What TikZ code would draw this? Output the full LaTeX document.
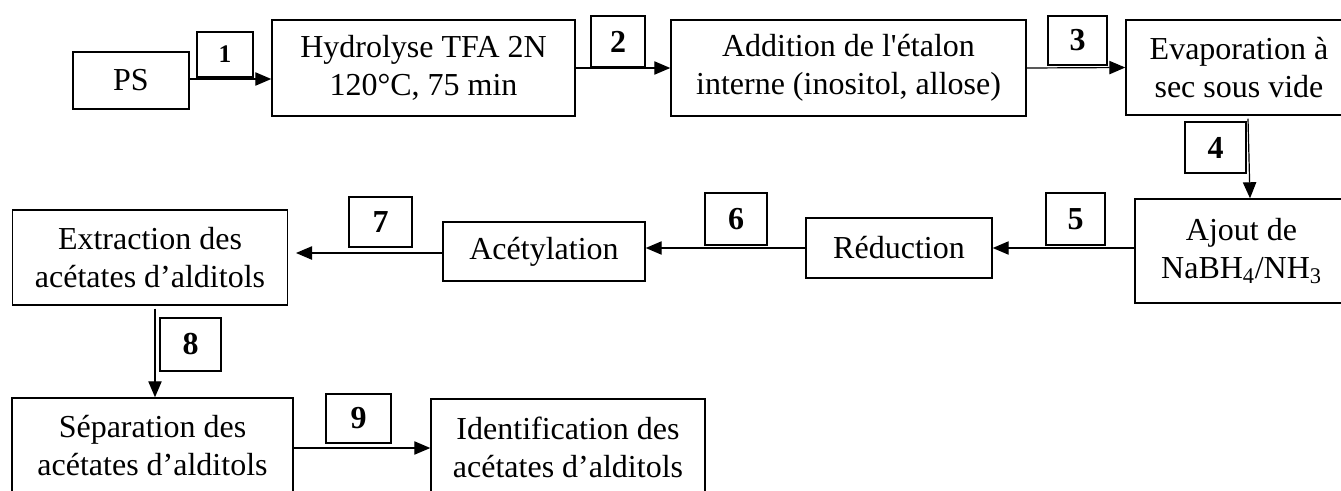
\documentclass[tikz,border=0pt]{standalone}
\usepackage{fontspec}
\setmainfont{Liberation Serif}[Ligatures=TeXOff]
\usetikzlibrary{arrows.meta,calc}

\tikzset{
  x=0.75pt, y=-0.75pt,
  stage/.style={draw, line width=1.1pt, inner sep=0pt, align=center,
    font=\fontsize{24}{28.5}\selectfont},
  tag/.style={draw, line width=1.1pt, inner sep=0pt,
    font=\fontsize{24}{28.5}\selectfont\bfseries},
  flow/.style={line width=0.9pt, -{Triangle[length=12pt,width=10pt]}}
}

\begin{document}
\begin{tikzpicture}
\path[use as bounding box, clip] (0,0) rectangle (1341,490);

% process stages
\node[stage, minimum width=87pt,    minimum height=42.75pt] (ps)    at (131,80.5)   {PS};
\node[stage, minimum width=227.25pt, minimum height=72pt]   (hydro) at (423.5,68)   {Hydrolyse TFA 2N\\120°C, 75 min};
\node[stage, minimum width=266.25pt, minimum height=72pt]   (add)   at (848.5,68)   {Addition de l'étalon\\interne (inositol, allose)};
\node[stage, minimum width=169.5pt, minimum height=71.25pt] (evap)  at (1239,67.5)  {Evaporation à\\sec sous vide};
\node[stage, minimum width=159.75pt, minimum height=78pt]   (ajout) at (1241.5,251) {Ajout de\\NaBH\textsubscript{4}/NH\textsubscript{3}};
\node[stage, minimum width=139.5pt, minimum height=45pt]    (red)   at (899,248)    {Réduction};
\node[stage, minimum width=151.5pt, minimum height=44.25pt] (acet)  at (544,251.5)  {Acétylation};
\node[stage, minimum width=205.9pt, minimum height=71.25pt] (extr)  at (150,257.5)  {Extraction des\\acétates d’alditols};
\node[stage, minimum width=210.75pt, minimum height=72pt]   (sep)   at (152.5,446)  {Séparation des\\acétates d’alditols};
\node[stage, minimum width=205.5pt, minimum height=72pt]    (ident) at (568,447)    {Identification des\\acétates d’alditols};

% step numbers
\node[tag, minimum width=42pt,    minimum height=33.75pt, font=\fontsize{19}{22}\selectfont\bfseries] (t1) at (225,54.5) {1};
\node[tag, minimum width=40.5pt,  minimum height=38.25pt] (t2) at (618,41.5)    {2};
\node[tag, minimum width=44.25pt, minimum height=36.75pt] (t3) at (1077.5,40.5) {3};
\node[tag, minimum width=45.75pt, minimum height=38.25pt] (t4) at (1215.5,147.5) {4};
\node[tag, minimum width=44.25pt, minimum height=39pt]    (t5) at (1075.5,219)  {5};
\node[tag, minimum width=46.5pt,  minimum height=39pt]    (t6) at (736,219)     {6};
\node[tag, minimum width=47.25pt, minimum height=37.5pt]  (t7) at (380.5,222)   {7};
\node[tag, minimum width=45.75pt, minimum height=39.75pt] (t8) at (190.5,344.5) {8};
\node[tag, minimum width=48.75pt, minimum height=36.75pt] (t9) at (358.5,418.5) {9};

% connectors
\draw[flow] ($(ps.east)+(0,-1.5)$) -- ($(ps.east -| hydro.west)+(0,-1.5)$);
\draw[flow] (hydro.east) -- (add.west);
\draw[flow] (add.east) -- (evap.west);
\draw[flow] ($(evap.south)+(9,3)$) -- ($(ajout.north)+(8.5,0)$);
\draw[flow] (red.east -| ajout.west) -- (red.east);
\draw[flow] (red.west) -- (red.west -| acet.east);
\draw[flow] ($(acet.west)+(0,1.5)$) -- ($(acet.west -| extr.east)+(8,1.5)$);
\draw[flow] ($(extr.south)+(5,3)$) -- ($(extr.south |- sep.north)+(5,0)$);
\draw[flow] ($(sep.east)+(0,2)$) -- ($(sep.east -| ident.west)+(0,2)$);
\end{tikzpicture}
\end{document}
